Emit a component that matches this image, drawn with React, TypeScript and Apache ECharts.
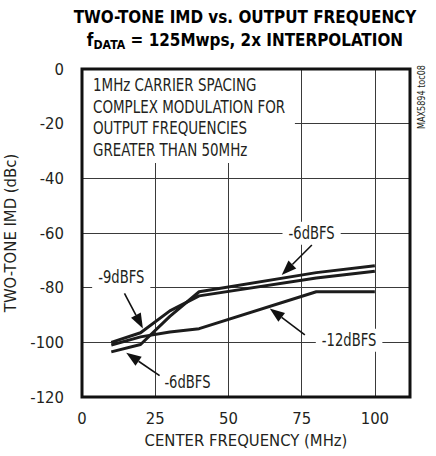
import React, { useEffect, useRef } from "react";
import * as echarts from "echarts";

// ---- data ----
const freqMHz = [10, 20, 30, 40, 80, 100];
const imdMinus6dBFS = [-103.5, -100.8, -90.5, -81.5, -74.5, -72];
const imdMinus9dBFS = [-100, -96.5, -88.5, -83, -76.5, -74];
const imdMinus12dBFS = [-101, -98, -96.2, -95, -81.5, -81.5];

const xMin = 0;
const xMax = 112;
const xStep = 25;
const yMin = -120;
const yMax = 0;
const yStep = 20;

const titleLine1 = "TWO-TONE IMD vs. OUTPUT FREQUENCY";
const xAxisName = "CENTER FREQUENCY (MHz)";
const yAxisName = "TWO-TONE IMD (dBc)";
const noteLines = [
  "1MHz CARRIER SPACING",
  "COMPLEX MODULATION FOR",
  "OUTPUT FREQUENCIES",
  "GREATER THAN 50MHz",
];
const sideTag = "MAX5894 toc08";

// curve call-outs, in data coordinates
const calloutText = ["-6dBFS", "-9dBFS", "-12dBFS", "-6dBFS"];
const calloutAt = [
  [78.4, -60.1],
  [13.4, -76],
  [91.2, -99.2],
  [36.0, -114.4],
];
const arrowFrom = [
  [78.5, -64.4],
  [14.5, -82.1],
  [76.1, -97.3],
  [26.5, -112.2],
];
const arrowTo = [
  [68.2, -75.4],
  [20.8, -94.9],
  [64.1, -87.6],
  [15.1, -103.8],
];

const FONT = '"DejaVu Sans Condensed", "Liberation Sans Narrow", sans-serif';
const INK = "#231f20";

export default function App() {
  const ref = useRef<HTMLDivElement>(null);

  useEffect(() => {
    if (!ref.current) return;
    const chart = echarts.init(ref.current, undefined, { renderer: "svg" });

    const mk = (vals: number[]) => freqMHz.map((f, i) => [f, vals[i]]);
    const lineStyle = { color: "#1c1c1c", width: 3 };

    chart.setOption({
      animation: false,
      backgroundColor: "#ffffff",
      textStyle: { fontFamily: FONT },
      grid: {
        left: 82,
        right: 26,
        top: 69,
        bottom: 59,
        show: false,
        outerBoundsMode: "none",
      },
      xAxis: {
        type: "value",
        min: xMin,
        max: xMax,
        interval: xStep,
        axisLine: { show: false },
        axisTick: { show: false },
        splitLine: { show: true, lineStyle: { color: "#3a3a3a", width: 1 } },
        axisLabel: {
          showMaxLabel: false,
          color: INK,
          fontFamily: FONT,
          fontSize: 16.5,
          margin: 13,
          formatter: (v: number) => (v % xStep === 0 ? String(v) : ""),
        },
        name: xAxisName,
        nameLocation: "middle",
        nameGap: 32,
        nameTextStyle: { color: INK, fontFamily: FONT, fontSize: 16.5 },
      },
      yAxis: {
        type: "value",
        min: yMin,
        max: yMax,
        interval: yStep,
        axisLine: { show: false },
        axisTick: { show: false },
        splitLine: { show: true, lineStyle: { color: "#3a3a3a", width: 1 } },
        axisLabel: {
          color: INK,
          fontFamily: FONT,
          fontSize: 16.5,
          margin: 18,
        },
        name: yAxisName,
        nameLocation: "middle",
        nameGap: 54,
        nameTextStyle: { color: INK, fontFamily: FONT, fontSize: 16.5 },
      },
      series: [
        { type: "line", name: "-6dBFS", data: mk(imdMinus6dBFS), symbol: "none", lineStyle, z: 5 },
        { type: "line", name: "-9dBFS", data: mk(imdMinus9dBFS), symbol: "none", lineStyle, z: 5 },
        { type: "line", name: "-12dBFS", data: mk(imdMinus12dBFS), symbol: "none", lineStyle, z: 5 },
      ],
    });

    const px = (p: number[]) => chart.convertToPixel({ gridIndex: 0 }, p) as number[];
    const tl = px([xMin, yMax]);
    const br = px([xMax, yMin]);
    const gx = tl[0], gy = tl[1], gw = br[0] - tl[0], gh = br[1] - tl[1];

    const graphics: any[] = [];

    // title
    graphics.push({
      type: "text",
      x: 245,
      y: 17,
      z: 50,
      scaleX: 0.94,
      style: {
        text: titleLine1,
        fill: "#000",
        font: `bold 18px ${FONT}`,
        align: "center",
        verticalAlign: "middle",
      },
    });
    graphics.push({
      type: "text",
      x: 245,
      y: 40,
      z: 50,
      scaleX: 0.94,
      style: {
        text: "{n|f}{s|DATA}{n| = 125Mwps, 2x INTERPOLATION}",
        align: "center",
        verticalAlign: "middle",
        rich: {
          n: { fontFamily: FONT, fontWeight: "bold", fontSize: 18, fill: "#000", lineHeight: 22, verticalAlign: "middle" },
          s: { fontFamily: FONT, fontWeight: "bold", fontSize: 13, fill: "#000", lineHeight: 22, verticalAlign: "bottom", padding: [8, 0, 0, 0] },
        },
      },
    });

    // note box (covers grid lines)
    const noteBR = px([72.7, -34.4]);
    graphics.push({
      type: "rect",
      z: 20,
      shape: { x: gx, y: gy, width: noteBR[0] - gx, height: noteBR[1] - gy },
      style: { fill: "#fff" },
    });
    noteLines.forEach((t, i) => {
      graphics.push({
        type: "text",
        z: 21,
        x: gx + 11,
        y: gy + 16 + i * 21.7,
        scaleX: 0.88,
        style: { text: t, fill: INK, font: `17px ${FONT}`, verticalAlign: "middle" },
      });
    });

    // call-outs and arrows
    calloutText.forEach((t, i) => {
      const c = px(calloutAt[i]);
      graphics.push({
        type: "text",
        z: 22,
        x: c[0],
        y: c[1],
        scaleX: 0.86,
        style: {
          text: t,
          fill: INK,
          font: `17px ${FONT}`,
          align: "center",
          verticalAlign: "middle",
          backgroundColor: "#fff",
          padding: [3, 7, 3, 7],
        },
      });
      const a = px(arrowFrom[i]);
      const b = px(arrowTo[i]);
      const dx = b[0] - a[0], dy = b[1] - a[1];
      const len = Math.hypot(dx, dy);
      const ux = dx / len, uy = dy / len;
      const hl = 15, hw = 5.5;
      const base = [b[0] - ux * hl, b[1] - uy * hl];
      graphics.push({
        type: "line",
        z: 23,
        shape: { x1: a[0], y1: a[1], x2: base[0], y2: base[1] },
        style: { stroke: "#111", lineWidth: 1.6 },
      });
      graphics.push({
        type: "polygon",
        z: 23,
        shape: {
          points: [
            [b[0], b[1]],
            [base[0] - uy * hw, base[1] + ux * hw],
            [base[0] + uy * hw, base[1] - ux * hw],
          ],
        },
        style: { fill: "#111" },
      });
    });

    // side tag
    graphics.push({
      type: "text",
      z: 30,
      x: 421,
      y: 97,
      rotation: Math.PI / 2,
      scaleX: 0.9,
      style: {
        text: sideTag,
        fill: INK,
        font: `10px ${FONT}`,
        align: "center",
        verticalAlign: "middle",
      },
    });

    // frame
    graphics.push({
      type: "rect",
      z: 40,
      shape: { x: gx, y: gy, width: gw, height: gh },
      style: { fill: "none", stroke: "#111", lineWidth: 3 },
    });

    chart.setOption({ graphic: { elements: graphics } });

    return () => chart.dispose();
  }, []);

  return (
    <div
      ref={ref}
      style={{ position: "fixed", left: 0, top: 0, width: 436, height: 456 }}
    />
  );
}
